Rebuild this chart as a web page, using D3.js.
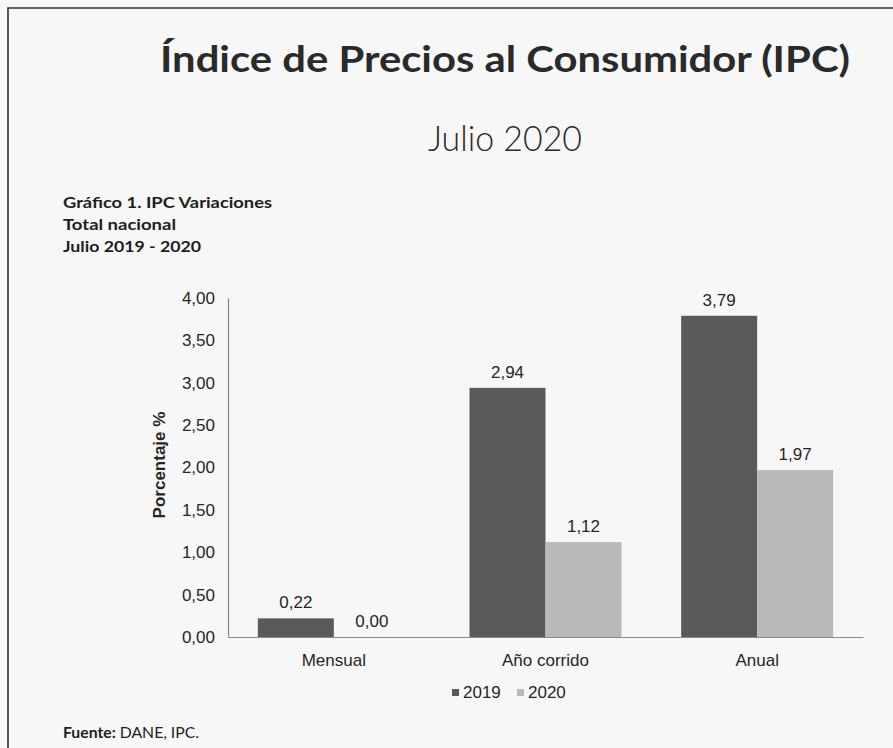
<!DOCTYPE html>
<html>
<head>
<meta charset="utf-8">
<script src="https://cdn.jsdelivr.net/npm/d3@7"></script>
<style>
  html, body { margin: 0; padding: 0; background: #f7f7f7; }
  svg { display: block; }
</style>
</head>
<body>
<svg id="chart" width="893" height="748"></svg>
<script>
const categories = ["Mensual", "Año corrido", "Anual"];
const seriesNames = ["2019", "2020"];
const values2019 = [0.22, 2.94, 3.79];
const values2020 = [0.00, 1.12, 1.97];
const yTicks = [0, 0.5, 1, 1.5, 2, 2.5, 3, 3.5, 4];

const title = "Índice de Precios al Consumidor (IPC)";
const subtitle = "Julio 2020";
const headLines = ["Gráfico 1. IPC Variaciones", "Total nacional", "Julio 2019 - 2020"];
const yTitle = "Porcentaje %";

const colors = { "2019": "#5a5a5a", "2020": "#bababa" };
const textColor = "#262626";
const chartFont = "'Liberation Sans', Arial, sans-serif";
const headFont = "Lato, 'Open Sans', sans-serif";

const svg = d3.select("#chart");
const locale = d3.formatLocale({ decimal: ",", thousands: ".", grouping: [3], currency: ["$", ""] });
const fmt = locale.format(".2f");

// frame (only top/left visible in the scan)
svg.append("path")
  .attr("d", "M8,760 L8,8 L905,8")
  .attr("fill", "none").attr("stroke", "#2e2e2e").attr("stroke-width", 1.6);

// Titles
svg.append("text").attr("x", 160).attr("y", 72)
  .attr("font-family", headFont).attr("font-weight", 700).attr("font-size", 37)
  .attr("fill", "#2a2a2a").attr("textLength", 690).attr("lengthAdjust", "spacingAndGlyphs")
  .text(title);
svg.append("text").attr("x", 505).attr("y", 151).attr("text-anchor", "middle")
  .attr("font-family", headFont).attr("font-weight", 300).attr("font-size", 36)
  .attr("fill", "#2a2a2a").attr("textLength", 154).attr("lengthAdjust", "spacingAndGlyphs")
  .text(subtitle);

const headLens = [209, 113, 138];
headLines.forEach((t, i) => {
  svg.append("text").attr("x", 63).attr("y", 208 + i * 22)
    .attr("font-family", headFont).attr("font-weight", 700).attr("font-size", 15)
    .attr("fill", "#1e1e1e").attr("textLength", headLens[i]).attr("lengthAdjust", "spacingAndGlyphs")
    .text(t);
});

// Scales
const x0 = d3.scaleBand().domain(categories).range([228, 863]).paddingInner(0.282).paddingOuter(0.141);
const x1 = d3.scaleBand().domain(seriesNames).range([0, x0.bandwidth()]);
const y = d3.scaleLinear().domain([0, 4]).range([637, 298]);

// Axes
const yAxis = d3.axisLeft(y).tickValues(yTicks).tickFormat(fmt).tickSize(0).tickPadding(13);
const gy = svg.append("g").attr("transform", "translate(228,0)").call(yAxis);
gy.select(".domain").attr("stroke", "#8a8a8a").attr("stroke-width", 1.2);
gy.selectAll("text").attr("font-family", chartFont).attr("font-size", 17).attr("fill", textColor);

const xAxis = d3.axisBottom(x0).tickSize(0).tickPadding(17);
const gx = svg.append("g").attr("transform", "translate(0,637)").call(xAxis);
gx.select(".domain").attr("stroke", "#8a8a8a").attr("stroke-width", 1.2);
gx.selectAll("text").attr("font-family", chartFont).attr("font-size", 17).attr("fill", textColor);

// Bars
const rows = categories.map((c, i) => ({ cat: c, vals: [
  { key: "2019", v: values2019[i] }, { key: "2020", v: values2020[i] }] }));

const groups = svg.append("g").selectAll("g").data(rows).join("g")
  .attr("transform", d => `translate(${x0(d.cat)},0)`);

groups.selectAll("rect").data(d => d.vals).join("rect")
  .attr("x", d => x1(d.key))
  .attr("y", d => y(d.v))
  .attr("width", x1.bandwidth())
  .attr("height", d => y(0) - y(d.v))
  .attr("fill", d => colors[d.key]);

groups.selectAll("text").data(d => d.vals).join("text")
  .attr("x", d => x1(d.key) + x1.bandwidth() / 2)
  .attr("y", d => y(d.v) - 10)
  .attr("text-anchor", "middle")
  .attr("font-family", chartFont).attr("font-size", 17).attr("fill", textColor)
  .text(d => fmt(d.v));

// Y title
svg.append("text")
  .attr("transform", "translate(165,465) rotate(-90)")
  .attr("text-anchor", "middle")
  .attr("font-family", chartFont).attr("font-weight", 700).attr("font-size", 17)
  .attr("fill", textColor)
  .text(yTitle);

// Legend
const legend = svg.append("g");
const legX = [452, 517];
seriesNames.forEach((s, i) => {
  legend.append("rect").attr("x", legX[i]).attr("y", 689).attr("width", 7).attr("height", 7)
    .attr("fill", colors[s]);
  legend.append("text").attr("x", legX[i] + 11).attr("y", 698)
    .attr("font-family", chartFont).attr("font-size", 17).attr("fill", textColor)
    .text(s);
});

// Source
const src = svg.append("text").attr("x", 63).attr("y", 738)
  .attr("font-family", headFont).attr("font-size", 15).attr("fill", "#1e1e1e")
  .attr("textLength", 136).attr("lengthAdjust", "spacingAndGlyphs");
src.append("tspan").attr("font-weight", 700).text("Fuente:");
src.append("tspan").text(" DANE, IPC.");
</script>
</body>
</html>
